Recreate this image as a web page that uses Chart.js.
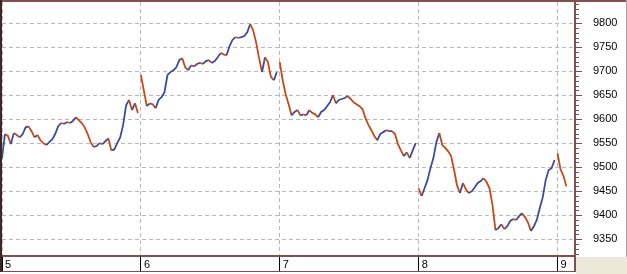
<!DOCTYPE html>
<html>
<head>
<meta charset="utf-8">
<script src="https://cdn.jsdelivr.net/npm/chart.js@4.4.1/dist/chart.umd.min.js"></script>
<style>
  html, body { margin: 0; padding: 0; background: #fff; }
  #wrap { width: 627px; height: 274px; }
</style>
</head>
<body>
<div id="wrap"><canvas id="c" width="627" height="274"></canvas></div>
<script>
/* ===== Intraday price chart, sessions 5 – 9 ===== */
const days = [5, 6, 7, 8, 9];
const dayStep = 1 / 47; // spacing of samples inside a session, in days

const day5 = [9519, 9569, 9565, 9548, 9571, 9567, 9562, 9569, 9583, 9585, 9575, 9562, 9567, 9556, 9550, 9546,
  9552, 9558, 9569, 9585, 9592, 9590, 9594, 9592, 9596, 9604, 9598, 9592, 9583, 9569, 9552, 9542,
  9544, 9550, 9548, 9554, 9560, 9535, 9537, 9550, 9562, 9588, 9629, 9640, 9619, 9633, 9613];
const day6 = [9692, 9660, 9627, 9633, 9631, 9623, 9640, 9646, 9656, 9692, 9698, 9702, 9708, 9723, 9727, 9708,
  9702, 9712, 9710, 9715, 9717, 9715, 9721, 9723, 9717, 9721, 9729, 9738, 9735, 9733, 9752, 9765,
  9771, 9769, 9771, 9773, 9781, 9798, 9785, 9760, 9727, 9698, 9729, 9719, 9688, 9681, 9698];
const day7 = [9719, 9681, 9652, 9631, 9608, 9615, 9619, 9608, 9610, 9608, 9619, 9613, 9610, 9604, 9615, 9619,
  9627, 9635, 9650, 9633, 9640, 9642, 9644, 9648, 9642, 9635, 9631, 9627, 9621, 9602, 9588, 9577,
  9565, 9556, 9569, 9573, 9577, 9575, 9575, 9569, 9548, 9535, 9523, 9531, 9519, 9535, 9550];
const day8 = [9456, 9440, 9456, 9473, 9498, 9519, 9552, 9571, 9546, 9540, 9533, 9523, 9494, 9462, 9446, 9467,
  9454, 9446, 9450, 9458, 9467, 9471, 9477, 9469, 9456, 9421, 9369, 9373, 9381, 9371, 9377, 9388,
  9392, 9390, 9398, 9404, 9396, 9385, 9367, 9377, 9390, 9415, 9437, 9473, 9494, 9498, 9515];
const day9 = [9529, 9496, 9482, 9460];

const priceTicks = [9350, 9400, 9450, 9500, 9550, 9600, 9650, 9700, 9750, 9800];
const yMin = 9315, yMax = 9844, xMax = 9.126;

const UP = "#3f4b9b", DOWN = "#c44a1c", FRAME = "#805050", GRID = "#b8b8b8";
const FONT = { family: "Liberation Sans", size: 11 };

const sessions = [day5, day6, day7, day8, day9];
const datasets = sessions.map((vals, k) => ({
  label: "Day " + days[k],
  data: vals.map((v, i) => ({ x: days[k] + i * dayStep, y: v })),
  borderWidth: 1.8, pointRadius: 0, tension: 0,
  segment: { borderColor: (c) => (c.p1.parsed.y >= c.p0.parsed.y ? UP : DOWN) },
}));

// window-style frame, price-axis minor ticks, grey corner
const frame = {
  id: "frame",
  beforeDraw(chart) {
    const { ctx, width, height, chartArea: a } = chart;
    ctx.save();
    ctx.fillStyle = "#fff"; ctx.fillRect(0, 0, width, height);
    ctx.fillStyle = "#ece9d8"; ctx.fillRect(a.right + 1, a.bottom + 1, width - a.right - 1, height - a.bottom - 1);
    ctx.restore();
  },
  afterDraw(chart) {
    const { ctx, width, chartArea: a, scales: { y } } = chart;
    ctx.save();
    ctx.fillStyle = FRAME;
    for (let v = 9320; v <= 9840; v += 10) ctx.fillRect(a.right, Math.round(y.getPixelForValue(v)), 4, 1);
    ctx.fillRect(0, 0, width, 2);
    ctx.fillRect(a.right - 1, 0, 2, a.bottom + 16);
    ctx.fillRect(0, a.bottom - 1, a.right + 1, 2);
    ctx.fillRect(0, a.bottom + 15, a.right + 1, 1);
    ctx.fillStyle = "#3c2626"; ctx.fillRect(0, 0, 2, a.bottom + 16);
    ctx.fillStyle = "#a7a7a7"; ctx.fillRect(width - 1, 0, 1, a.bottom + 1);
    ctx.restore();
  },
};

new Chart(document.getElementById("c"), {
  type: "line",
  data: { datasets },
  plugins: [frame],
  options: {
    responsive: false, animation: false, devicePixelRatio: 1,
    layout: { padding: { left: 2, top: 2, right: 0, bottom: 0 } },
    plugins: { legend: { display: false }, tooltip: { enabled: false } },
    scales: {
      x: {
        type: "linear", position: "bottom", min: 5, max: xMax,
        afterBuildTicks: (s) => { s.ticks = days.map((v) => ({ value: v })); },
        afterFit: (s) => { s.height = 18; s.paddingLeft = 0; s.paddingRight = 0; },
        grid: { color: GRID, lineWidth: 1, tickLength: 15, tickColor: "#000", tickWidth: 1, tickBorderDash: [] },
        border: { display: false, dash: [4, 3] },
        ticks: { align: "start", labelOffset: 3, padding: -13, maxRotation: 0, autoSkip: false,
          color: "#000", font: FONT, callback: (v) => String(v) },
      },
      y: {
        type: "linear", position: "right", min: yMin, max: yMax,
        afterBuildTicks: (s) => { s.ticks = priceTicks.map((v) => ({ value: v })); },
        afterFit: (s) => { s.width = 52; s.paddingTop = 0; s.paddingBottom = 0; },
        grid: { color: GRID, lineWidth: 1, tickLength: 7, tickColor: FRAME, tickWidth: 1, tickBorderDash: [] },
        border: { display: false, dash: [4, 3] },
        ticks: { padding: 11, color: "#000", font: FONT, callback: (v) => String(v) },
      },
    },
  },
});
</script>
</body>
</html>
